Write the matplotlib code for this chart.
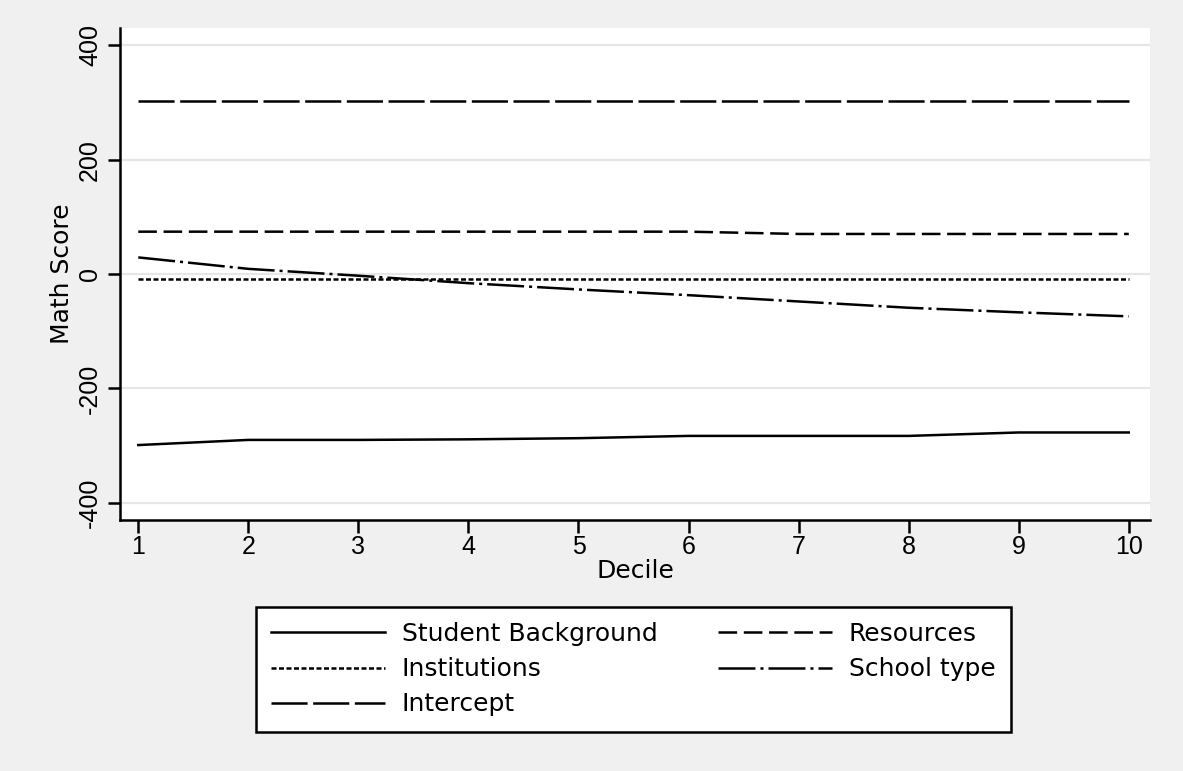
import matplotlib
matplotlib.use('Agg')
import matplotlib.pyplot as plt

# values (math score by decile)
deciles = [1, 2, 3, 4, 5, 6, 7, 8, 9, 10]
student_background = [-299, -290, -290, -289, -287, -283, -283, -283, -277, -277]
resources = [74, 74, 74, 74, 74, 74, 70, 70, 70, 70]
institutions = [-8, -8, -8, -8, -8, -8, -8, -8, -8, -8]
school_type = [29, 9, -3, -16, -27, -37, -48, -59, -67, -74]
intercept = [302, 302, 302, 302, 302, 302, 302, 302, 302, 302]

yticks = [-400, -200, 0, 200, 400]

plt.rcParams['font.family'] = ['Liberation Sans', 'DejaVu Sans']
plt.rcParams['lines.scale_dashes'] = False
plt.rcParams['axes.unicode_minus'] = False

fig = plt.figure(figsize=(11.83, 7.71), dpi=100, facecolor='#f0f0f0')
ax = fig.add_axes([0.10144, 0.32555, 0.87067, 0.63813])
ax.set_facecolor('white')

lw = 1.8
h_sb, = ax.plot(deciles, student_background, color='black', lw=lw, label='Student Background')
h_res, = ax.plot(deciles, resources, color='black', lw=lw, dashes=(13.4, 4.8), label='Resources')
h_inst, = ax.plot(deciles, institutions, color='black', lw=lw, dashes=(3.6, 1.8), label='Institutions')
h_st, = ax.plot(deciles, school_type, color='black', lw=lw, dashes=(26.6, 3.6, 2.2, 3.6), label='School type')
h_int, = ax.plot(deciles, intercept, color='black', lw=lw, dashes=(26, 4), label='Intercept')

ax.set_xlim(0.834, 10.193)
ax.set_ylim(-430, 430)
ax.set_xticks(deciles)
ax.set_yticks(yticks)
ax.yaxis.grid(True, color='#e6e6e6', lw=1.6)
ax.set_axisbelow(True)

for s in ['top', 'right']:
    ax.spines[s].set_visible(False)
for s in ['left', 'bottom']:
    ax.spines[s].set_linewidth(1.8)

ax.tick_params(axis='both', length=9, width=1.8, labelsize=18, color='black')
ax.tick_params(axis='x', pad=2)
ax.tick_params(axis='y', pad=4, labelrotation=90)
for t in ax.get_yticklabels():
    t.set_va('center')

ax.set_xlabel('Decile', fontsize=18, labelpad=0, family='DejaVu Sans')
ax.set_ylabel('Math Score', fontsize=18, labelpad=3, family='DejaVu Sans')

# column-major order so rows read: Student/Resources, Institutions/School, Intercept
handles = [h_sb, h_inst, h_int, h_res, h_st]
leg = fig.legend(handles=handles, loc='upper left',
                 bbox_to_anchor=(256 / 1183, 1 - 607 / 771),
                 bbox_transform=fig.transFigure, ncol=2,
                 frameon=True, fancybox=False, edgecolor='black', facecolor='white',
                 framealpha=1, prop={'family': 'DejaVu Sans', 'size': 18},
                 handlelength=4.56, handletextpad=0.68, columnspacing=2.4,
                 borderpad=0.6, labelspacing=0.45, borderaxespad=0)
leg.get_frame().set_linewidth(1.8)

fig.savefig('out.png', dpi=100, facecolor=fig.get_facecolor())
